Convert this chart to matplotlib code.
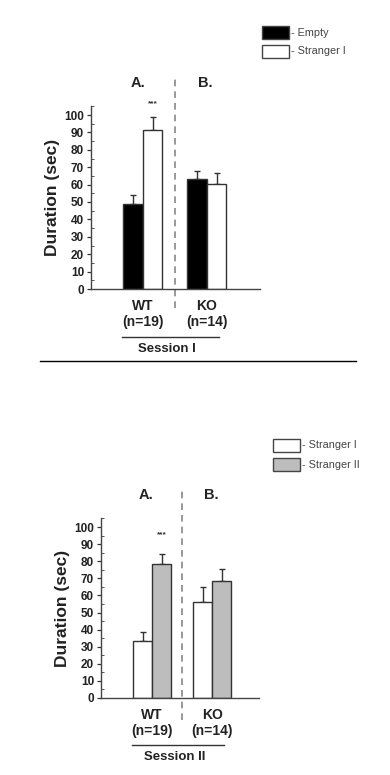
import matplotlib
matplotlib.use("Agg")
import matplotlib.pyplot as plt
from matplotlib.ticker import MultipleLocator

plt.rcParams["font.family"] = ["Liberation Sans", "DejaVu Sans"]

# data
groups = ["WT\n(n=19)", "KO\n(n=14)"]

s1_labels = ["- Empty", "- Stranger I"]
s1_means = [[48.9, 63.0], [91.2, 60.5]]
s1_errs = [[5.4, 4.9], [7.6, 5.9]]
s1_colors = ["black", "white"]

s2_labels = ["- Stranger I", "- Stranger II"]
s2_means = [[33.6, 56.3], [78.4, 68.3]]
s2_errs = [[4.8, 8.6], [6.1, 7.2]]
s2_colors = ["white", "#bdbdbd"]

W, H = 390, 775
fig = plt.figure(figsize=(W / 100, H / 100), dpi=100)


def px_axes(left, right, top, bottom):
    return fig.add_axes([left / W, 1 - bottom / H, (right - left) / W, (bottom - top) / H])


def draw_panel(ax, means, errs, colors, bw, xlim, session, star_y, div_ylim, letter_x):
    edge = "#333333"
    for i, (m, e, c) in enumerate(zip(means, errs, colors)):
        xs = [g + (i - 0.5) * bw for g in range(len(groups))]
        ax.bar(xs, m, width=bw, color=c, edgecolor=edge, linewidth=1.0, zorder=2)
        ax.errorbar(xs, m, yerr=[[0] * len(e), e], fmt="none", ecolor=edge,
                    elinewidth=1.0, capsize=2.5, capthick=1.0, zorder=1)
    ax.set_xlim(*xlim)
    ax.set_ylim(0, 105)
    ax.yaxis.set_major_locator(MultipleLocator(10))
    ax.yaxis.set_minor_locator(MultipleLocator(5))
    ax.tick_params(axis="y", which="major", direction="out", length=3, width=0.9,
                   colors="#333333", labelsize=8.5, pad=2)
    ax.tick_params(axis="y", which="minor", direction="in", length=2, width=0.7,
                   colors="#555555")
    for lbl in ax.get_yticklabels():
        lbl.set_fontweight("bold")
        lbl.set_color("#222222")
    ax.set_xticks(range(len(groups)))
    ax.set_xticklabels(groups, fontsize=10, fontweight="bold", color="#222222",
                       linespacing=1.25)
    ax.tick_params(axis="x", length=0, pad=7)
    for s in ["top", "right"]:
        ax.spines[s].set_visible(False)
    for s in ["left", "bottom"]:
        ax.spines[s].set_color("#444444")
        ax.spines[s].set_linewidth(1.0)
    ax.set_ylabel("Duration (sec)", fontsize=12.5, fontweight="bold", labelpad=3,
                  color="#222222")

    # dashed divider
    ax.plot([0.5, 0.5], div_ylim, linestyle=(0, (4, 3)), color="#888888",
            linewidth=1.2, clip_on=False, zorder=0)
    # panel letters
    ax.text(letter_x[0], 118.5, "A.", fontsize=10.5, fontweight="bold",
            ha="center", va="center", color="#222222", clip_on=False)
    ax.text(letter_x[1], 118.5, "B.", fontsize=10.5, fontweight="bold",
            ha="center", va="center", color="#222222", clip_on=False)
    ax.text(bw / 2, star_y, "***", fontsize=6, fontweight="bold",
            ha="center", va="center", color="#333333", clip_on=False)
    # session underline and label
    ax.plot([-0.33, 1.19], [-27.6, -27.6], color="#333333", linewidth=1.0,
            clip_on=False)
    ax.text(0.38, -34.5, session, fontsize=9.5, fontweight="bold",
            ha="center", va="center", color="#222222", clip_on=False)


def draw_legend(x0, y0, labels, colors):
    for j, (lab, c) in enumerate(zip(labels, colors)):
        yy = y0 + j * 19
        fig.patches.append(plt.Rectangle((x0 / W, 1 - (yy + 13) / H), 27 / W, 13 / H,
                                         transform=fig.transFigure, facecolor=c,
                                         edgecolor="#444444", linewidth=1.0))
        fig.text((x0 + 29) / W, 1 - (yy + 6.5) / H, lab, fontsize=7.8,
                 va="center", ha="left", color="#444444")


# Session I
ax1 = px_axes(91, 260, 289 - 105 * 1.74, 289)
draw_panel(ax1, s1_means, s1_errs, s1_colors, bw=0.305, xlim=(-0.81, 1.83),
           session="Session I", star_y=106.3, div_ylim=(-10.9, 122.4),
           letter_x=(-0.08, 0.98))
draw_legend(262, 26, s1_labels, s1_colors)

# Session II
ax2 = px_axes(101, 259, 698 - 105 * 1.71, 698)
draw_panel(ax2, s2_means, s2_errs, s2_colors, bw=0.317, xlim=(-0.85, 1.78),
           session="Session II", star_y=95.3, div_ylim=(-12.9, 122.2),
           letter_x=(-0.1, 0.98))
draw_legend(273, 439, s2_labels, s2_colors)

# separator line between the two panels
fig.add_artist(plt.Line2D([40 / W, 356 / W], [1 - 361 / H, 1 - 361 / H],
                          color="black", linewidth=1.0))

fig.savefig("out.png", dpi=100)
